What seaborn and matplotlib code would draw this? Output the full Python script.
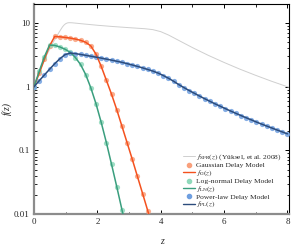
import numpy as np
import pandas as pd
import matplotlib
matplotlib.use("Agg")
import matplotlib.pyplot as plt
import matplotlib.ticker as mticker
from matplotlib.lines import Line2D
import seaborn as sns

# ---- data ----
z_sfr = [0, 0.2, 0.4, 0.6, 0.8, 0.9, 0.95, 1.0, 1.05, 1.1, 1.2, 1.5, 2.0, 2.5, 3.0,
         3.5, 3.75, 4.0, 4.25, 4.5, 5.0, 5.5, 6.0, 6.5, 7.0, 7.5, 8.0, 8.2]
f_sfr = [1.0, 1.86, 3.14, 4.94, 7.3, 8.74, 9.34, 9.8, 10.06, 10.16, 10.13, 9.78, 9.26,
         8.84, 8.49, 8.17, 7.91, 7.35, 6.49, 5.58, 4.13, 3.12, 2.41, 1.89, 1.51, 1.22,
         1.0, 0.926]

z_model = [0.0, 0.163, 0.327, 0.490, 0.653, 0.816, 0.980, 1.143, 1.306, 1.469,
           1.633, 1.796, 1.959, 2.122, 2.286, 2.449, 2.612, 2.776, 2.939, 3.102,
           3.265, 3.429, 3.592, 3.755, 3.918, 4.082, 4.245, 4.408, 4.571, 4.735,
           4.898, 5.061, 5.224, 5.388, 5.551, 5.714, 5.878, 6.041, 6.204, 6.367,
           6.531, 6.694, 6.857, 7.020, 7.184, 7.347, 7.510, 7.673, 7.837, 8.0]

f_gauss = [1.0, 1.62, 2.69, 4.37, 6.17, 6.1, 5.96, 5.82, 5.62, 5.37,
           5.0, 4.37, 3.24, 2.09, 1.26, 0.76, 0.437, 0.24, 0.132, 0.0724,
           0.0389, 0.0209, 0.0112, 0.006, 0.0032]

f_lognorm = [1.0, 1.74, 2.95, 4.52, 4.47, 4.22, 3.89, 3.47, 2.88, 2.24,
             1.55, 0.955, 0.537, 0.275, 0.132, 0.060, 0.0269, 0.0117, 0.0051, 0.0022]

f_power = [1.0, 1.24, 1.53, 1.88, 2.30, 2.75, 3.20, 3.38, 3.32, 3.22,
           3.12, 3.02, 2.92, 2.82, 2.72, 2.62, 2.52, 2.42, 2.31, 2.20,
           2.09, 1.98, 1.87, 1.76, 1.64, 1.50, 1.36, 1.22, 1.08, 0.968,
           0.872, 0.79, 0.714, 0.649, 0.591, 0.539, 0.494, 0.453, 0.416, 0.383,
           0.353, 0.326, 0.302, 0.279, 0.259, 0.241, 0.2245, 0.209, 0.195, 0.182]

x_ticks = [0, 2, 4, 6, 8]
y_ticks = [0.01, 0.1, 1, 10]
y_ticklabels = ["0.01", "0.1", "1", "10"]

labels = {
    "sfr": r"$f_{\rm SFR}(z)$ (Yüksel, et al. 2008)",
    "g_pts": "Gaussian Delay Model",
    "g_line": r"$f_{\rm G}(z)$",
    "ln_pts": "Log-normal Delay Model",
    "ln_line": r"$f_{\rm LN}(z)$",
    "pl_pts": "Power-law Delay Model",
    "pl_line": r"$f_{\rm PL}(z)$",
}

# ---- style ----
sns.set_style("ticks")
plt.rcParams["font.family"] = ["Liberation Serif", "DejaVu Serif"]
plt.rcParams["mathtext.fontset"] = "stix"

c_sfr = "#cfcfcf"
c_g_line, c_g_pts = "#f4511e", "#f9a07c"
c_ln_line, c_ln_pts = "#3a9e7e", "#8fd9bb"
c_pl_line, c_pl_pts = "#2c4c7c", "#6f9fe0"

fig = plt.figure(figsize=(2.99, 2.49), dpi=100)
ax = fig.add_axes([0.1137, 0.1406, 0.8529, 0.8434])

df_sfr = pd.DataFrame({"z": z_sfr, "f": f_sfr})
df_g = pd.DataFrame({"z": z_model[:len(f_gauss)], "f": f_gauss})
df_ln = pd.DataFrame({"z": z_model[:len(f_lognorm)], "f": f_lognorm})
df_pl = pd.DataFrame({"z": z_model, "f": f_power})

sns.lineplot(data=df_sfr, x="z", y="f", ax=ax, color=c_sfr, lw=0.7, zorder=2)
for df, cp, cl in [(df_g, c_g_pts, c_g_line), (df_ln, c_ln_pts, c_ln_line),
                   (df_pl, c_pl_pts, c_pl_line)]:
    sns.scatterplot(data=df, x="z", y="f", ax=ax, color=cp, s=14, linewidth=0,
                    alpha=0.85, zorder=3)
    sns.lineplot(data=df, x="z", y="f", ax=ax, color=cl, lw=1.1, zorder=4)

ax.set_yscale("log")
ax.set_xlim(0, 8.05)
ax.set_ylim(0.01, 20)
ax.set_xticks(x_ticks)
ax.set_xticklabels([str(t) for t in x_ticks])
ax.xaxis.set_minor_locator(mticker.MultipleLocator(1))
ax.set_yticks(y_ticks)
ax.set_yticklabels(y_ticklabels)
ax.yaxis.set_minor_locator(mticker.LogLocator(base=10, subs=np.arange(2, 10)))
ax.yaxis.set_minor_formatter(mticker.NullFormatter())

ax.tick_params(which="both", direction="in", top=True, right=True, labelsize=6.5,
               color="black", pad=3)
ax.tick_params(which="major", length=3, width=0.7)
ax.tick_params(which="minor", length=1.8, width=0.6)

for s in ["left", "bottom"]:
    ax.spines[s].set_color("#8c8c8c")
    ax.spines[s].set_linewidth(1.6)
for s in ["top", "right"]:
    ax.spines[s].set_color("black")
    ax.spines[s].set_linewidth(0.8)

ax.set_xlabel("z", fontsize=7, style="italic", labelpad=8)
ax.set_ylabel("f(z)", fontsize=7, style="italic")
ax.yaxis.set_label_coords(-0.085, 0.5)

handles = [
    Line2D([], [], color=c_sfr, lw=0.7),
    Line2D([], [], color=c_g_pts, marker="o", ms=3, lw=0),
    Line2D([], [], color=c_g_line, lw=1.0),
    Line2D([], [], color=c_ln_pts, marker="o", ms=3, lw=0),
    Line2D([], [], color=c_ln_line, lw=1.0),
    Line2D([], [], color=c_pl_pts, marker="o", ms=3, lw=0),
    Line2D([], [], color=c_pl_line, lw=1.0),
]
leg_labels = [labels[k] for k in ["sfr", "g_pts", "g_line", "ln_pts", "ln_line",
                                  "pl_pts", "pl_line"]]
ax.legend(handles, leg_labels, loc="lower left", bbox_to_anchor=(0.565, 0.0),
          frameon=False, fontsize=5.4, handlelength=1.6, handletextpad=0.2,
          labelspacing=0.02, borderaxespad=0.2)

fig.savefig("out.png", dpi=100)
